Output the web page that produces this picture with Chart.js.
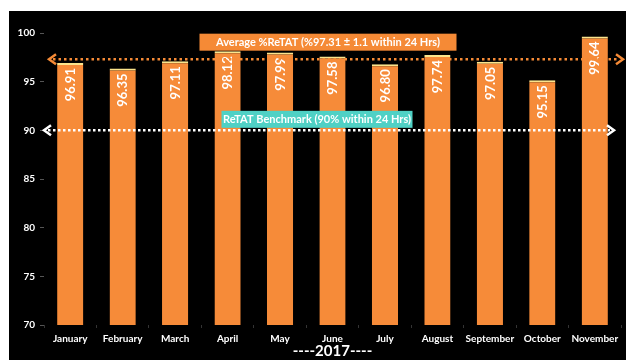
<!DOCTYPE html>
<html>
<head>
<meta charset="utf-8">
<script src="https://cdn.jsdelivr.net/npm/chart.js@4/dist/chart.umd.min.js"></script>
<style>
html,body{margin:0;padding:0;background:#fff;width:626px;height:360px;overflow:hidden;}
#wrap{position:absolute;left:9px;top:11px;width:617px;height:349px;background:#000;}
canvas{display:block;}
</style>
</head>
<body>
<div id="wrap"><canvas id="c" width="617" height="349"></canvas></div>
<script>
const months = ["January","February","March","April","May","June","July","August","September","October","November"];
const retat = [96.91, 96.35, 97.11, 98.12, 97.99, 97.58, 96.80, 97.74, 97.05, 95.15, 99.64];
const yTicks = [70, 75, 80, 85, 90, 95, 100];
const averageValue = 97.31;
const averageText = "Average %ReTAT (%97.31 \u00B1 1.1 within 24 Hrs)";
const benchmarkValue = 90;
const benchmarkText = "ReTAT Benchmark (90% within 24 Hrs)";
const yearTitle = "----2017----";

const FONT = "Lato, 'Open Sans', sans-serif";

function arrowLine(ctx, y, x1, x2, color, dash) {
  ctx.save();
  ctx.strokeStyle = color;
  ctx.lineWidth = 2.5;
  ctx.setLineDash(dash);
  ctx.beginPath();
  ctx.moveTo(x1 + 4, y);
  ctx.lineTo(x2 - 4, y);
  ctx.stroke();
  ctx.setLineDash([]);
  ctx.lineWidth = 2.5;
  ctx.beginPath();
  ctx.moveTo(x1 + 7, y - 5); ctx.lineTo(x1, y); ctx.lineTo(x1 + 7, y + 5);
  ctx.stroke();
  ctx.beginPath();
  ctx.moveTo(x2 - 7, y - 5); ctx.lineTo(x2, y); ctx.lineTo(x2 - 7, y + 5);
  ctx.stroke();
  ctx.restore();
}

function labelBox(ctx, text, cx, cy, w, h, bg) {
  ctx.save();
  ctx.fillStyle = bg;
  ctx.fillRect(cx - w / 2, cy - h / 2, w, h);
  ctx.fillStyle = "#fff";
  ctx.font = "bold 11px " + FONT;
  ctx.textAlign = "center";
  ctx.textBaseline = "middle";
  ctx.fillText(text, cx, cy + 0.5);
  ctx.restore();
}

const overlay = {
  id: "overlay",
  afterDatasetsDraw(chart) {
    const ctx = chart.ctx;
    const y = chart.scales.y;
    const meta = chart.getDatasetMeta(0);
    // value labels
    ctx.save();
    ctx.fillStyle = "#fff";
    ctx.font = "bold 13px " + FONT;
    meta.data.forEach((bar, i) => {
      ctx.save();
      ctx.translate(bar.x, bar.y + 5);
      ctx.rotate(-Math.PI / 2);
      ctx.textAlign = "right";
      ctx.textBaseline = "middle";
      ctx.fillText(retat[i].toFixed(2), 0, 0.5);
      ctx.restore();
    });
    ctx.restore();
    // benchmark line
    const yb = y.getPixelForValue(benchmarkValue);
    arrowLine(ctx, yb, 35, 605, "#ffffff", [2.5, 2.5]);
    labelBox(ctx, benchmarkText, 308, yb - 11, 191, 17, "#4FD1C5");
    // average line
    const ya = y.getPixelForValue(averageValue);
    arrowLine(ctx, ya, 40, 614, "#F58A36", [2.5, 3]);
    labelBox(ctx, averageText, 319, ya - 17, 257, 17, "#F58A36");
  }
};

new Chart(document.getElementById("c"), {
  type: "bar",
  data: {
    labels: months,
    datasets: [{
      data: retat,
      backgroundColor: "#F68B39",
      borderColor: "#FBE48C",
      borderWidth: {top: 2, left: 0, right: 0, bottom: 0},
      borderSkipped: "bottom",
      categoryPercentage: 1,
      barPercentage: 0.5
    }]
  },
  options: {
    responsive: false,
    animation: false,
    devicePixelRatio: 1,
    layout: {padding: {left: 0, right: 5, top: 22, bottom: 0}},
    plugins: {legend: {display: false}, tooltip: {enabled: false}},
    scales: {
      x: {
        grid: {display: true, drawOnChartArea: false, offset: true, tickLength: 3, color: "#333"},
        border: {display: false},
        ticks: {color: "#fff", font: {family: FONT, size: 10, weight: "bold"}, padding: 5, maxRotation: 0, autoSkip: false},
        title: {display: true, text: yearTitle, color: "#fff", font: {family: FONT, size: 15, weight: "bold"}, padding: {top: 0, bottom: 0}},
        afterFit(s) { s.height = 35; }
      },
      y: {
        min: 70, max: 100,
        afterBuildTicks(s) { s.ticks = yTicks.map(v => ({value: v})); },
        grid: {display: true, drawOnChartArea: false, tickLength: 4, color: "#555"},
        border: {display: false},
        ticks: {color: "#fff", font: {family: FONT, size: 10, weight: "bold"}, padding: 5},
        afterFit(s) { s.width = 35; }
      }
    }
  },
  plugins: [overlay]
});
</script>
</body>
</html>
